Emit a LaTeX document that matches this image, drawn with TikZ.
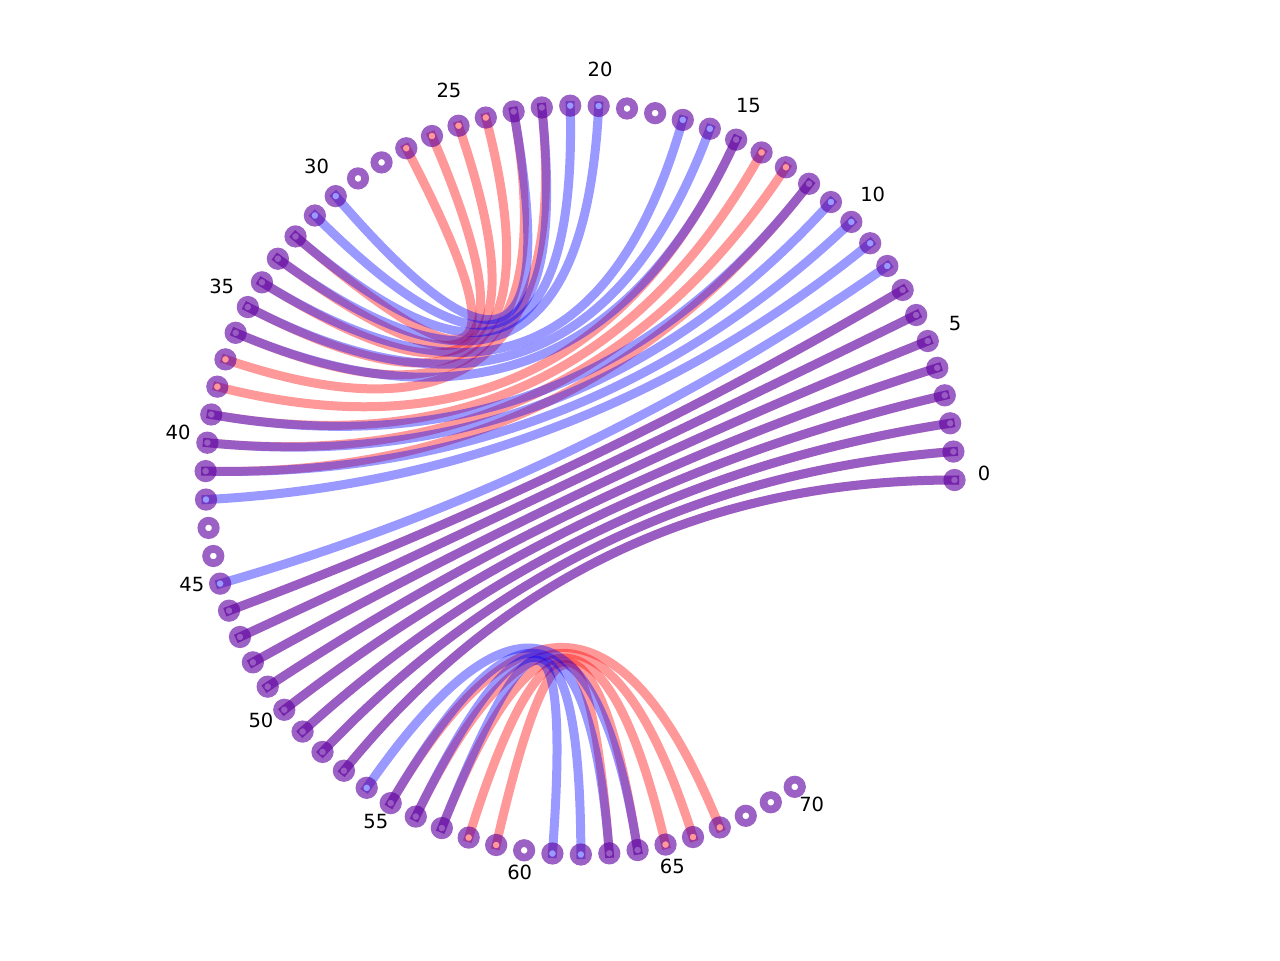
\documentclass[tikz,border=0pt]{standalone}
\usepackage{fontspec}
\setmainfont{DejaVu Sans}
\definecolor{netred}{RGB}{255,0,0}
\definecolor{netblue}{RGB}{0,0,255}
\definecolor{netring}{RGB}{96,0,159}
\newcommand{\angstep}{4.357}
\newcommand{\ringrad}{374.5}
\tikzset{
  chord/.style={draw=#1,draw opacity=0.4,line width=2.56pt,line cap=rect},
  chord/.default=netblue,
  ring/.style={draw=netring,draw opacity=0.62,line width=2.2pt},
  tag/.style={font=\fontsize{5.55}{6.5}\selectfont,text=black,inner sep=0pt},
}
\begin{document}
\begin{tikzpicture}[x=0.01cm,y=0.01cm]
  \useasboundingbox (-580,-480) rectangle (700,480);
  % vertices on the circle and their pull points
  \foreach \k in {0,...,70} {
    \coordinate (v\k) at ({\k*\angstep}:\ringrad);
    \coordinate (c\k) at ({\k*\angstep}:124.83);
  }
  % red net
  \foreach \a/\b in {0/53,1/52,2/51,3/50,4/49,5/48,6/47,7/46,
      12/41,13/40,14/39,15/38,22/37,23/36,24/35,25/34,26/33,27/32,
      55/67,56/66,57/65,58/64,59/63}
    \draw[chord=netred] (v\a) .. controls (c\a) and (c\b) .. (v\b);
  % blue net
  \foreach \a/\b in {0/53,1/52,2/51,3/50,4/49,5/48,6/47,7/46,
      8/45,9/42,10/41,11/40,12/39,15/36,16/35,17/34,20/33,21/32,22/31,23/30,
      54/64,55/63,56/62,57/61}
    \draw[chord] (v\a) .. controls (c\a) and (c\b) .. (v\b);
  % markers
  \foreach \k in {0,...,70}
    \draw[ring] (v\k) circle (7.2);
  % index labels
  \foreach \k in {0,5,...,70}
    \path ({\k*\angstep}:404) ++(0,7) node[tag] (t\k) {\k};
\end{tikzpicture}
\end{document}
